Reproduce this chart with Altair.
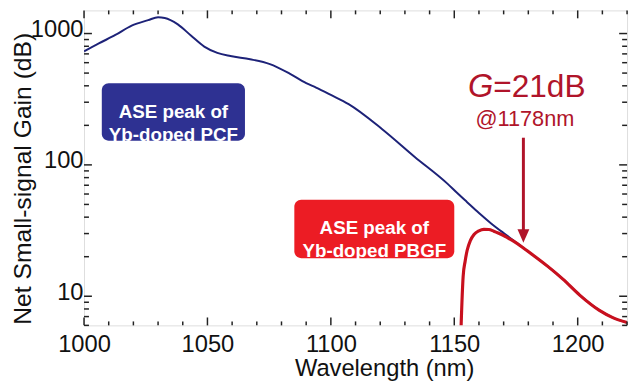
import altair as alt
import pandas as pd

# ---- data ----
blue_wl = [1000, 1006, 1012.7, 1019.3, 1026, 1030, 1032.7, 1038, 1043.3, 1048.7, 1054, 1059.3,
           1067.3, 1075.3, 1083.3, 1090, 1094, 1100, 1107.2, 1120.8, 1134, 1147.2, 1151.2, 1155.2,
           1160, 1164.8, 1170.8, 1174, 1178, 1182, 1188, 1194, 1200.8, 1208.8, 1214, 1220]
blue_gain = [731, 841, 975, 1150, 1265, 1330, 1315, 1175, 966, 796, 713, 674,
             637, 585, 495, 419, 388, 341, 290, 187, 115, 72, 61, 52,
             43, 36, 29.5, 26.6, 23.3, 20.5, 16.8, 13.5, 10.2, 7.8, 6.9, 6.3]

red_wl = [1152.3, 1152.8, 1153.6, 1154.4, 1155.2, 1156.5, 1158, 1160, 1162, 1164, 1166, 1168,
          1170, 1172, 1174, 1178, 1182, 1188, 1194, 1200.8, 1208.8, 1214, 1220]
red_gain = [3, 6.2, 14.2, 18.5, 22.3, 26.5, 29.5, 31.5, 32.3, 32.2, 31.3, 30.2,
            29, 27.6, 26.3, 23.3, 20.5, 16.8, 13.5, 10.2, 7.8, 6.9, 6.3]

x_major = [1000, 1050, 1100, 1150, 1200]
x_minor = [1010, 1020, 1030, 1040, 1060, 1070, 1080, 1090, 1110, 1120, 1130, 1140,
           1160, 1170, 1180, 1190, 1210, 1220]
y_major = [10, 100, 1000]
y_minor = [6, 7, 8, 9, 20, 30, 40, 50, 60, 70, 80, 90, 200, 300, 400, 500, 600, 700, 800, 900]

pcf_label = ["ASE peak of", "Yb-doped PCF"]
pbgf_label = ["ASE peak of", "Yb-doped PBGF"]
gain_text = ["G", "=21dB", "@1178nm"]
arrow_wl = 1178
arrow_from, arrow_to = 161, 25.5

# ---- styling ----
W, H = 550, 319
FONT = "Liberation Sans"
AX = "#222222"
BLUE_LINE = "#1d2278"
RED_LINE = "#c8101e"
BLUE_BOX = "#2e3192"
RED_BOX = "#ec1c24"
DARK_RED = "#b0142a"

xs = alt.Scale(domain=[1000, 1220], nice=False, zero=False)
ys = alt.Scale(type="log", domain=[6, 1500], nice=False)

AXIS_X = alt.Axis(
    values=x_major, format="d", title="Wavelength (nm)", ticks=False, tickSize=0,
    domain=False, grid=False, labelFont=FONT, labelFontSize=24, labelColor="#111",
    labelPadding=7, labelFlush=False, titleFont=FONT, titleFontSize=24,
    titleFontWeight="normal", titleColor="#111", titleX=304, titleY=51,
    titleBaseline="alphabetic")
AXIS_Y = alt.Axis(
    values=y_major, format="d", title="Net Small-signal Gain (dB)", ticks=False,
    tickSize=0, domain=False, grid=False, labelFont=FONT, labelFontSize=24,
    labelColor="#111", labelPadding=1, labelOffset=-4, titleFont=FONT,
    titleFontSize=25, titleFontWeight="normal", titleColor="#111", titleAngle=270,
    titleX=-54, titleY=170, titleBaseline="alphabetic", titleAlign="center")


def X(field):
    return alt.X(field, scale=xs, axis=AXIS_X)


def Y(field):
    return alt.Y(field, scale=ys, axis=AXIS_Y)


blue_df = pd.DataFrame({"wl": blue_wl, "g": blue_gain})
red_df = pd.DataFrame({"wl": red_wl, "g": red_gain})

blue_line = alt.Chart(blue_df).mark_line(color=BLUE_LINE, strokeWidth=2, clip=True,
                                         interpolate="monotone").encode(x=X("wl:Q"), y=Y("g:Q"))
red_line = alt.Chart(red_df).mark_line(color=RED_LINE, strokeWidth=3.2, clip=True,
                                       interpolate="monotone").encode(x=X("wl:Q"), y=Y("g:Q"))

boxes_df = pd.DataFrame({"x": [1007.2], "x2": [1065.2], "y": [419], "y2": [153]})
boxes2_df = pd.DataFrame({"x": [1085.2], "x2": [1150], "y": [54.3], "y2": [19.5]})


def box(df, color):
    return alt.Chart(df).mark_rect(color=color, cornerRadius=7).encode(
        x=X("x:Q"), x2="x2:Q", y=Y("y:Q"), y2="y2:Q")


def label(x, y, text, **kw):
    df = pd.DataFrame({"x": [x], "y": [y]})
    return alt.Chart(df).mark_text(font=FONT, text=text, **kw).encode(x=X("x:Q"), y=Y("y:Q"))


pcf_text = label(1036.2, 251, pcf_label, color="white", fontSize=19, fontWeight="bold",
                 lineHeight=23, align="center", baseline="middle")
pbgf_text = label(1117.6, 32.8, pbgf_label, color="white", fontSize=19, fontWeight="bold",
                  lineHeight=23, align="center", baseline="middle")
g_text = label(1165.8, 326, gain_text[0], color=DARK_RED, fontSize=33, fontStyle="italic",
               align="right", baseline="alphabetic")
g_val = label(1165.8, 326, gain_text[1], color=DARK_RED, fontSize=32,
              align="left", baseline="alphabetic")
at_text = label(1178.6, 197, gain_text[2], color=DARK_RED, fontSize=22,
                align="center", baseline="alphabetic")

arrow_df = pd.DataFrame({"x": [arrow_wl], "y": [arrow_from], "y2": [arrow_to * 1.2]})
arrow = alt.Chart(arrow_df).mark_rule(color=DARK_RED, strokeWidth=3).encode(
    x=X("x:Q"), y=Y("y:Q"), y2="y2:Q")
head_df = pd.DataFrame({"x": [arrow_wl], "y": [arrow_to]})
head = alt.Chart(head_df).mark_point(shape="M-1,-2.3L1,-2.3L0,0Z", size=144, filled=True,
                                     color=DARK_RED, opacity=1).encode(x=X("x:Q"), y=Y("y:Q"))


def xticks(vals, length):
    df = pd.DataFrame({"v": vals})
    b = alt.Chart(df).mark_rule(color=AX, strokeWidth=1.5)
    return (b.encode(x=X("v:Q"), y=alt.value(H), y2=alt.value(H - length)) +
            b.encode(x=X("v:Q"), y=alt.value(0), y2=alt.value(length)))


def yticks(vals, length):
    df = pd.DataFrame({"v": vals})
    b = alt.Chart(df).mark_rule(color=AX, strokeWidth=1.5)
    return (b.encode(y=Y("v:Q"), x=alt.value(0), x2=alt.value(length)) +
            b.encode(y=Y("v:Q"), x=alt.value(W), x2=alt.value(W - length)))


chart = alt.layer(
    box(boxes_df, BLUE_BOX), box(boxes2_df, RED_BOX),
    blue_line, red_line,
    pcf_text, pbgf_text, g_text, g_val, at_text, arrow, head,
    xticks(x_major, 8), xticks(x_minor, 4), yticks(y_major, 8), yticks(y_minor, 5),
).properties(
    width=W, height=H, autosize="none",
    padding={"left": 77, "top": 0, "right": 5, "bottom": 62},
).configure_view(stroke=AX, strokeWidth=2).configure(background="white")

chart.save("out.html", embed_options={"renderer": "svg", "actions": False})
